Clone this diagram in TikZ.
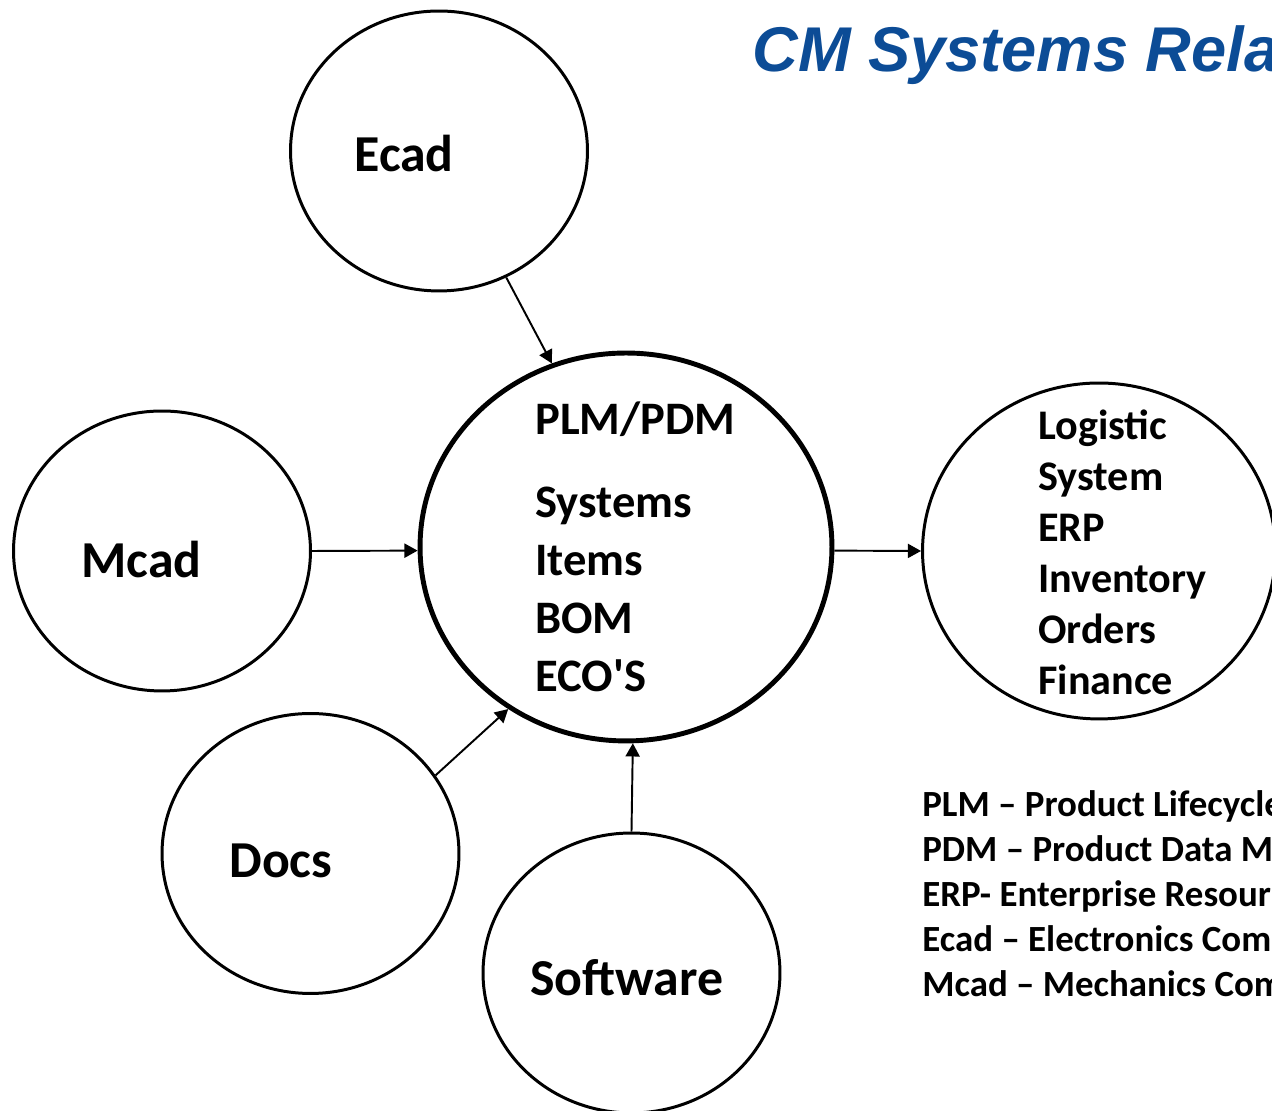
\documentclass[tikz,border=0pt]{standalone}
\usepackage{fontspec}
\setmainfont{Carlito}
\newfontfamily\titlefont{Liberation Sans}
\usetikzlibrary{shapes.geometric,arrows.meta}
\definecolor{titleblue}{RGB}{12,76,150}

\tikzset{
  bubble/.style={ellipse, draw, line width=1.7pt, inner sep=0pt,
    minimum width=5.94cm, minimum height=5.6cm},
  bubtext/.style={anchor=base west, inner sep=0pt,
    font=\fontsize{29.5}{35}\selectfont\bfseries},
  plmtext/.style={anchor=base west, inner sep=0pt,
    font=\fontsize{26.5}{32}\selectfont\bfseries},
  erptext/.style={anchor=base west, inner sep=0pt,
    font=\fontsize{24}{29}\selectfont\bfseries},
  legtext/.style={anchor=base west, inner sep=0pt,
    font=\fontsize{21}{25}\selectfont\bfseries},
  feed/.style={line width=1.1pt, -{Triangle[length=7.5pt,width=8pt]}}
}

\begin{document}
\begin{tikzpicture}[x=0.02cm, y=0.02cm]
\useasboundingbox (0,0) rectangle (1272,1111);

% title
\node[anchor=base west, inner sep=0pt, text=titleblue,
  font=\titlefont\fontsize{36}{40}\selectfont\bfseries\itshape] (title) at (752,1039) {CM Systems Rela};

% bubbles
\node[bubble] (ecad) at (439,960) {};
\node[bubble] (mcad) at (162,560) {};
\node[bubble] (docs) at (310.5,257.5) {};
\node[bubble] (soft) at (631.5,138) {};
\node[bubble, line width=2.8pt, minimum width=8.24cm, minimum height=7.76cm] (plm) at (626,564) {};
\node[bubble, minimum width=7.06cm, minimum height=6.72cm] (erp) at (1099,560) {};

\node[bubtext] (ecadtxt) at (354,939) {Ecad};
\node[bubtext] (mcadtxt) at (81,533) {Mcad};
\node[bubtext] (docstxt) at (229,233) {Docs};
\node[bubtext] (softtxt) at (530,115) {Software};

% PLM contents
\node[plmtext] (plmtitle) at (535,676) {PLM/PDM};
\foreach \t [count=\i] in {Systems,Items,BOM,ECO\textquotesingle S}
  \node[plmtext] (plm\i) at (535,593-58*\i+58) {\t};

% logistic contents
\foreach \t [count=\i] in {Logistic,System,ERP,Inventory,Orders,Finance}
  \node[erptext] (erp\i) at (1038,671-51*\i+51) {\t};

% arrows
\draw[feed] (ecad.-62) -- (plm.112);
\draw[feed] (mcad.east) -- (plm.181);
\draw[feed] (docs.32) -- (plm.-126);
\draw[feed] (soft.north) -- (plm.-88.5);
\draw[feed] (plm.-1) -- (erp.west);

% legend
\node[legtext] (leg1) at (922,294) {PLM -- Product Lifecycle};
\node[legtext] (leg2) at (922,249) {PDM -- Product Data M};
\node[legtext] (leg3) at (922,204) {ERP- Enterprise Resour};
\node[legtext] (leg4) at (922,159) {Ecad -- Electronics Com};
\node[legtext] (leg5) at (922,114) {Mcad -- Mechanics Com};
\end{tikzpicture}
\end{document}
